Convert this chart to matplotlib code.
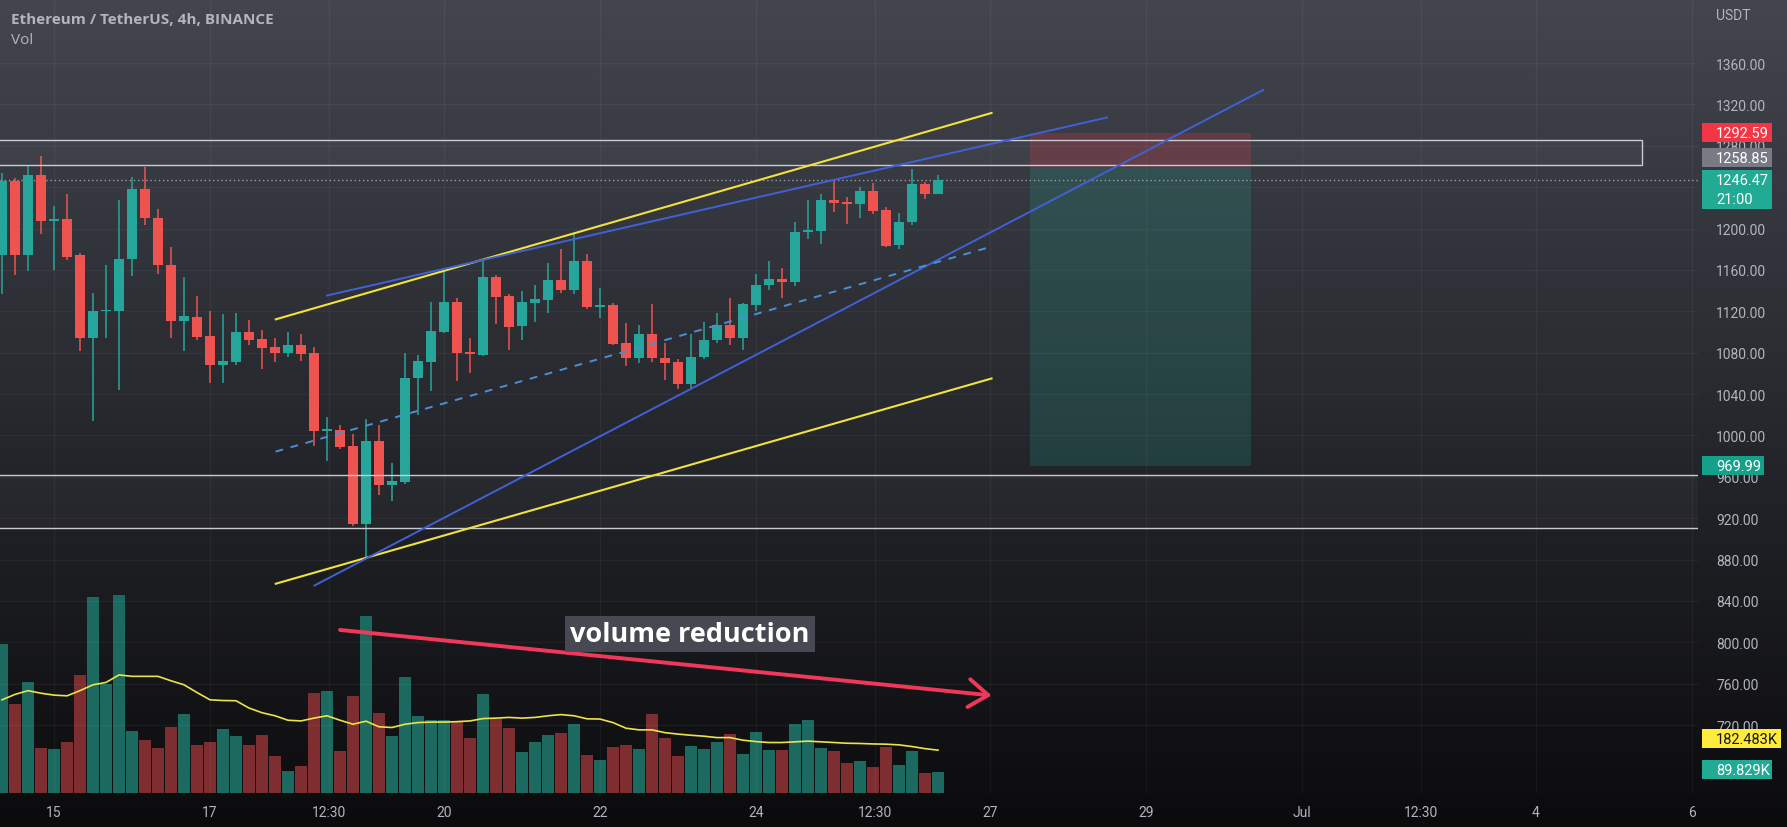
import matplotlib.pyplot as plt
import numpy as np
from matplotlib.patches import Rectangle
from matplotlib.transforms import blended_transform_factory

# ETH/USDT 4h candles
opens = [1174, 1246, 1174, 1252, 1207, 1209, 1174, 1094, 1120, 1120,
         1171, 1238, 1210, 1165, 1111, 1114, 1096, 1068, 1071, 1100,
         1093, 1085, 1080, 1087, 1080, 1004, 1005, 990, 914, 995,
         952, 955, 1055, 1071, 1100, 1129, 1081, 1078, 1153, 1135,
         1106, 1128, 1131, 1150, 1141, 1169, 1124, 1126, 1089, 1075,
         1098, 1075, 1071, 1050, 1076, 1092, 1107, 1094, 1126, 1145,
         1151, 1148, 1197, 1198, 1228, 1226, 1224, 1236, 1218, 1184,
         1206, 1243, 1233]
highs = [1254, 1249, 1260, 1270, 1222, 1233, 1176, 1138, 1165, 1228,
         1250, 1259, 1219, 1182, 1153, 1135, 1120, 1117, 1118, 1112,
         1102, 1094, 1100, 1098, 1085, 1018, 1010, 1001, 1016, 1010,
         973, 1080, 1078, 1129, 1159, 1133, 1094, 1169, 1155, 1137,
         1140, 1145, 1167, 1180, 1195, 1175, 1142, 1128, 1109, 1107,
         1127, 1089, 1074, 1098, 1110, 1118, 1133, 1128, 1156, 1169,
         1162, 1206, 1228, 1233, 1247, 1230, 1240, 1244, 1221, 1215,
         1258, 1245, 1252]
lows = [1137, 1155, 1159, 1195, 1160, 1170, 1082, 1014, 1094, 1044,
        1154, 1203, 1156, 1094, 1082, 1092, 1051, 1051, 1068, 1087,
        1064, 1071, 1076, 1072, 990, 975, 987, 912, 882, 942,
        937, 953, 1020, 1043, 1099, 1053, 1060, 1077, 1108, 1083,
        1092, 1110, 1118, 1138, 1137, 1122, 1113, 1087, 1067, 1070,
        1071, 1054, 1045, 1046, 1074, 1089, 1087, 1083, 1120, 1141,
        1133, 1144, 1190, 1185, 1216, 1204, 1210, 1214, 1182, 1180,
        1203, 1229, 1233]
closes = [1246, 1174, 1252, 1207, 1209, 1172, 1094, 1120, 1121, 1171,
          1238, 1210, 1165, 1111, 1115, 1095, 1068, 1072, 1100, 1092,
          1084, 1080, 1087, 1079, 1004, 1006, 989, 914, 995, 952,
          956, 1055, 1072, 1101, 1129, 1080, 1079, 1153, 1134, 1105,
          1129, 1132, 1150, 1141, 1169, 1124, 1126, 1088, 1075, 1098,
          1075, 1070, 1050, 1076, 1092, 1107, 1094, 1127, 1145, 1151,
          1148, 1197, 1199, 1228, 1225, 1224, 1236, 1217, 1183, 1206,
          1243, 1233, 1246.47]
# volume in thousands and its moving average (yellow line)
volumes = [636, 380, 474, 192, 188, 218, 504, 833, 464, 842,
           265, 226, 192, 283, 337, 206, 218, 273, 243, 205,
           249, 158, 94, 115, 428, 436, 179, 414, 752, 342,
           243, 495, 329, 310, 310, 304, 235, 423, 316, 275,
           175, 218, 249, 256, 295, 164, 141, 198, 206, 188,
           337, 235, 159, 201, 188, 218, 252, 167, 260, 184,
           184, 295, 312, 193, 179, 128, 137, 111, 198, 120,
           179, 85, 89.829]
vol_ma = [397, 420, 436, 425, 417, 414, 436, 461, 471, 503,
          497, 497, 497, 478, 461, 428, 397, 394, 393, 362,
          342, 329, 310, 307, 319, 329, 310, 293, 306, 282,
          279, 293, 300, 302, 302, 304, 307, 317, 319, 322,
          319, 322, 329, 334, 329, 316, 315, 300, 276, 269,
          269, 257, 251, 246, 242, 236, 236, 225, 219, 215,
          215, 218, 221, 218, 215, 212, 211, 209, 208, 205,
          198, 189, 182.483]

price_ticks = list(range(720, 1361, 40))
date_pos = [4, 16, 25.125, 34, 46, 58, 67.125, 76, 88, 100, 109.125, 118, 130]
date_labels = ['15', '17', '12:30', '20', '22', '24', '12:30', '27', '29',
               'Jul', '12:30', '4', '6']

# drawings, as (bar0, price0, bar1, price1)
yellow_lines = [(21.06, 1112.2, 76.12, 1311.7), (21.06, 856.6, 76.12, 1055.0)]
blue_lines = [(25.0, 1135.2, 85.0, 1307.3), (24.04, 854.9, 97.0, 1333.9)]
dashed_line = (21.04, 984.3, 76.2, 1182.8)
arrow = (26.0, 811.9, 76.12, 748.6)
upper_zone = (1261.1, 1285.6, 126.15)   # low, high, right end
lower_zone = (910.5, 961.7)
stop, entry, target = 1292.59, 1258.85, 969.99
pos_bars = (79.1, 96.1)
last_price = 1246.47

GREEN, RED = '#26a69a', '#ef5350'
TXT = '#b2b5be'
NARROW = ['Roboto', 'DejaVu Sans']

W, H, DPI = 1787, 828, 100
fig = plt.figure(figsize=(W / DPI, H / DPI), dpi=DPI)

# gradient background over the whole canvas
bg = fig.add_axes([0, 0, 1, 1], zorder=-10)
top_c = np.array([67, 70, 79]) / 255
bot_c = np.array([11, 11, 13]) / 255
t = np.linspace(0, 1, 256)[:, None, None]
bg.imshow(top_c + (bot_c - top_c) * t, aspect='auto', extent=[0, 1, 0, 1])
bg.axis('off')

ax = fig.add_axes([0, 34 / H, 1698 / W, 794 / H])
vax = ax.twinx()
ax.set_zorder(2)
vax.set_zorder(1)
ax.patch.set_visible(False)
vax.patch.set_visible(False)

ax.set_xlim(-2 / 13, 1696 / 13)
ax.set_ylim(1360 - 730 / 1.0344, 1360 + 64 / 1.0344)
vax.set_ylim(0, 794 * 4.26)
x_lo, x_hi = ax.get_xlim()

for a in (ax, vax):
    for s in a.spines.values():
        s.set_visible(False)
vax.set_yticks([])

ax.yaxis.tick_right()
ax.set_yticks(price_ticks)
ax.set_yticklabels([f'{p:.2f}' for p in price_ticks], fontfamily=NARROW)
ax.set_xticks(date_pos)
ax.set_xticklabels(date_labels, fontfamily=NARROW)
ax.tick_params(axis='y', length=0, pad=13, labelsize=10, labelcolor=TXT)
ax.tick_params(axis='x', length=0, pad=9, labelsize=10, labelcolor=TXT)
ax.grid(True, color='white', alpha=0.045, lw=1)

# volume
x = np.arange(len(opens))
o, h, l, c = map(np.array, (opens, highs, lows, closes))
up = c >= o
vol_col = np.where(up, '#1c6a5f', '#7e2e30')
vax.bar(x, volumes, width=0.92, color=vol_col)
vax.plot(x, vol_ma, color='#ece24a', lw=1.2)

# candles
col = np.where(up, GREEN, RED)
ax.vlines(x, l, h, colors=col, lw=1.1, zorder=3)
ax.bar(x, np.maximum(np.abs(c - o), 0.9), bottom=np.minimum(o, c),
       width=0.7, color=col, zorder=4)

# zones (left edge pushed off-canvas so only the horizontal borders show)
ax.add_patch(Rectangle((x_lo - 2, upper_zone[0]), upper_zone[2] - x_lo + 2,
                       upper_zone[1] - upper_zone[0], fc=(1, 1, 1, 0.03),
                       ec='#c9cbd1', lw=1, zorder=5))
ax.add_patch(Rectangle((x_lo - 2, lower_zone[0]), x_hi - x_lo + 4,
                       lower_zone[1] - lower_zone[0], fc=(1, 1, 1, 0.03),
                       ec='#c9cbd1', lw=1, zorder=5))

# short position box
ax.add_patch(Rectangle((pos_bars[0], entry), pos_bars[1] - pos_bars[0], stop - entry,
                       fc=(242 / 255, 54 / 255, 69 / 255, 0.22), ec='none', zorder=2))
ax.add_patch(Rectangle((pos_bars[0], target), pos_bars[1] - pos_bars[0], entry - target,
                       fc=(34 / 255, 171 / 255, 148 / 255, 0.2), ec='none', zorder=2))

ax.axhline(last_price, color='#959ba4', ls=(0, (1, 2)), lw=1, zorder=3)

# trend lines
for x0, p0, x1, p1 in yellow_lines:
    ax.plot([x0, x1], [p0, p1], color='#f2e23c', lw=1.5, zorder=6)
for x0, p0, x1, p1 in blue_lines:
    ax.plot([x0, x1], [p0, p1], color='#4061d6', lw=1.4, zorder=6)
ax.plot(dashed_line[::2], dashed_line[1::2], color='#4a8fd6', lw=1.4,
        ls=(0, (4, 4)), zorder=6)

ax.annotate('', xy=(arrow[2], arrow[3]), xytext=(arrow[0], arrow[1]),
            arrowprops=dict(arrowstyle='->,head_length=1.4,head_width=1.0',
                            color='#f2385a', lw=2.8, shrinkA=0, shrinkB=0),
            zorder=7)
ax.text(52.9, 808, 'volume reduction', ha='center', va='center', fontsize=19.5,
        fontweight='bold', family='Open Sans', color='white', zorder=8,
        bbox=dict(boxstyle='square,pad=0.2', fc='#4b4e56', ec='none', alpha=0.92))

# header
fig.text(11 / W, 1 - 20 / H, 'Ethereum / TetherUS, 4h, BINANCE', fontsize=11,
         fontweight='bold', family='Open Sans', color=TXT, va='center')
fig.text(11 / W, 1 - 41 / H, 'Vol', fontsize=11, family='Open Sans',
         color=TXT, va='center')
fig.text(1716 / W, 1 - 16 / H, 'USDT', fontsize=10, family=NARROW, color=TXT,
         va='center')

# axis labels on the price scale
ptr = blended_transform_factory(ax.transAxes, ax.transData)
vtr = blended_transform_factory(ax.transAxes, vax.transData)
x_box = 1702 / 1698
x_txt = 1716 / 1698


def axis_label(tr, yc, lines, fc, tc, unit, w=70):
    n = len(lines)
    hgt = (20 * n - 1) * unit
    top = yc + 10 * unit
    ax.add_patch(Rectangle((x_box, top - hgt), w / 1698, hgt, transform=tr,
                           fc=fc, ec='none', clip_on=False, zorder=9))
    for i, s in enumerate(lines):
        ax.text(x_txt, yc - i * 19 * unit, s, transform=tr, ha='left',
                va='center', fontsize=10.5, family=NARROW, color=tc,
                clip_on=False, zorder=10)


pu = 1 / 1.0344
axis_label(ptr, stop, ['%.2f' % stop], '#f23645', 'white', pu)
axis_label(ptr, entry + 9.5 * pu, ['%.2f' % entry], '#787b86', 'white', pu)
axis_label(ptr, last_price, ['%.2f' % last_price, '21:00'], '#22ab94', 'white', pu)
axis_label(ptr, target, ['%.2f' % target], '#15a08a', 'white', pu, w=62)
axis_label(vtr, vol_ma[-1] + 48, ['%.3fK' % vol_ma[-1]], '#ffeb3b', '#131722', 4.26, w=79)
axis_label(vtr, volumes[-1] + 8, ['%.3fK' % volumes[-1]], '#22ab94', 'white', 4.26)

fig.savefig('out.png', dpi=DPI)
